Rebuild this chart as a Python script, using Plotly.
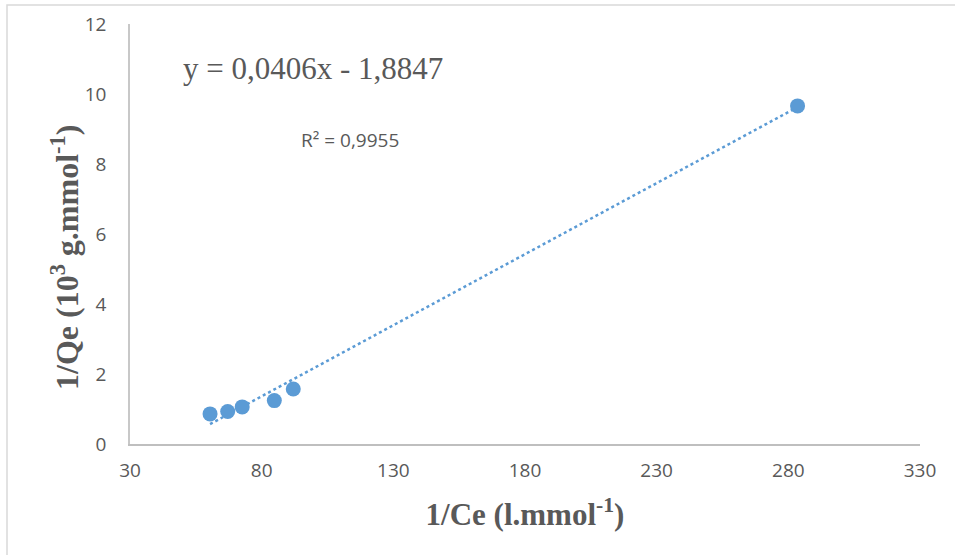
import plotly.graph_objects as go
import numpy as np

inv_ce = [60.4, 67.1, 72.6, 84.8, 92.0, 283.5]
inv_qe = [0.86, 0.93, 1.06, 1.24, 1.57, 9.66]
slope = 0.0406
intercept = -1.8847
r2 = 0.9955

x_ticks = [30, 80, 130, 180, 230, 280, 330]
y_ticks = [0, 2, 4, 6, 8, 10, 12]

blue = "#5B9BD5"
grey_txt = "#595959"

tx = np.array([min(inv_ce), max(inv_ce)])
ty = slope * tx + intercept

fig = go.Figure()
fig.add_trace(go.Scatter(x=tx, y=ty, mode="lines",
                         line=dict(color=blue, width=2.5, dash="dot"),
                         hoverinfo="skip", showlegend=False))
fig.add_trace(go.Scatter(x=inv_ce, y=inv_qe, mode="markers",
                         marker=dict(color=blue, size=15),
                         showlegend=False))

fig.update_layout(
    width=955, height=555,
    margin=dict(l=130, r=35, t=24, b=111),
    paper_bgcolor="white", plot_bgcolor="white",
    xaxis=dict(range=[30, 330], tickvals=x_ticks, ticktext=[str(v) for v in x_ticks],
               showgrid=False, zeroline=False, showline=True,
               linecolor="#BFBFBF", linewidth=1.5, ticks="",
               ticklabelstandoff=8,
               tickfont=dict(family="Open Sans", size=19, color=grey_txt),
               title=dict(text="<b>1/Ce (l.mmol<sup>-1</sup>)</b>", standoff=22,
                          font=dict(family="Liberation Serif", size=31, color=grey_txt))),
    yaxis=dict(range=[0, 12], tickvals=y_ticks, ticktext=[str(v) for v in y_ticks],
               showgrid=False, zeroline=False, showline=True,
               linecolor="#C8C8C8", linewidth=1.5, ticks="",
               ticklabelstandoff=18,
               tickfont=dict(family="Open Sans", size=19, color=grey_txt)),
    annotations=[
        dict(x=(65 - 130) / 790, y=(444 - 258) / 420, xref="paper", yref="paper",
             showarrow=False, textangle=-90, xanchor="center", yanchor="middle",
             text="<b>1/Qe (10<sup>3</sup> g.mmol<sup>-1</sup>)</b>",
             font=dict(family="Liberation Serif", size=32, color=grey_txt)),
        dict(x=0.2316, y=0.895, xref="paper", yref="paper", showarrow=False,
             xanchor="center", yanchor="middle",
             text=f"y = {str(slope).replace('.', ',')}x - {str(abs(intercept)).replace('.', ',')}",
             font=dict(family="Liberation Serif", size=31, color=grey_txt)),
        dict(x=0.278, y=0.724, xref="paper", yref="paper", showarrow=False,
             xanchor="center", yanchor="middle",
             text=f"R² = {str(r2).replace('.', ',')}",
             font=dict(family="Open Sans", size=19, color=grey_txt)),
    ],
    shapes=[dict(type="rect", xref="paper", yref="paper",
                 x0=(7 - 130) / 790, x1=(960 - 130) / 790,
                 y0=(444 - 560) / 420, y1=(444 - 5) / 420,
                 line=dict(color="#D9D9D9", width=1.5), layer="below")],
)
fig.write_html("out.html")
